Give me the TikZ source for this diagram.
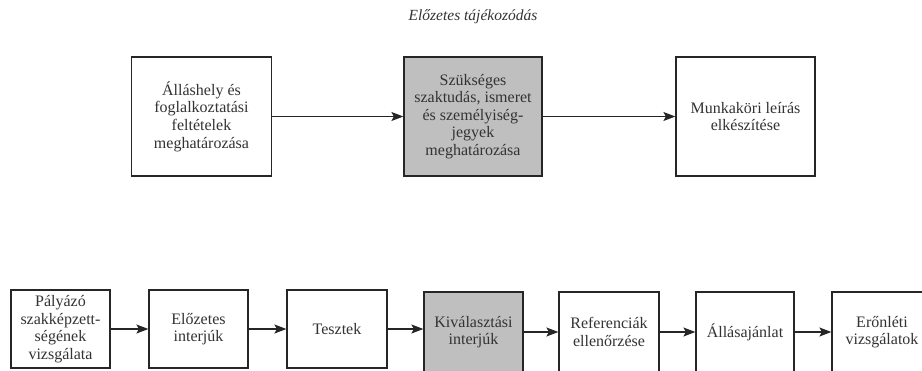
\documentclass[tikz,border=0pt]{standalone}
\usepackage{fontspec}
\setmainfont{Liberation Serif}
\usetikzlibrary{arrows.meta}
\begin{document}
\begin{tikzpicture}[x=1pt,y=-1pt,
  stepbox/.style={draw=black!85, line width=1.2pt, fill=white, align=center,
    inner sep=1pt, font=\fontsize{16}{17.6}\selectfont, text=black!80},
  keybox/.style={stepbox, fill=black!25},
  flow/.style={draw=black!85, line width=1.2pt, -{Stealth[length=12pt,width=9pt,inset=2.5pt]}}]
\useasboundingbox (0,0) rectangle (922,370);
\clip (0,0) rectangle (922,370);
\fill[white] (0,0) rectangle (922,370);

% heading
\node[text=black!80] (title) at (473,17) {\fontsize{15.5}{17}\selectfont\itshape Előzetes tájékozódás};

% preliminary stage
\node[stepbox, minimum width=140pt, minimum height=119pt] (a1) at (201.5,116.5)
  {Álláshely és\\foglalkoztatási\\feltételek\\meghatározása};
\node[keybox, minimum width=138pt, minimum height=119pt] (a2) at (473,116.5)
  {Szükséges\\szaktudás, ismeret\\és személyiség-\\jegyek\\meghatározása};
\node[stepbox, minimum width=139pt, minimum height=119pt] (a3) at (745.5,116.5)
  {Munkaköri leírás\\elkészítése};
\draw[flow] (a1) -- (a2);
\draw[flow] (a2) -- (a3);

% selection steps
\node[stepbox, minimum width=99pt, minimum height=78pt] (b1) at (60.5,329)
  {Pályázó\\szakképzett-\\ségének\\vizsgálata};
\node[stepbox, minimum width=99pt, minimum height=78pt] (b2) at (198.5,329)
  {Előzetes\\interjúk};
\node[stepbox, minimum width=100pt, minimum height=78pt] (b3) at (337,329)
  {Tesztek};
\node[keybox, minimum width=99pt, minimum height=80pt] (b4) at (473.5,332)
  {Kiválasztási\\interjúk};
\node[stepbox, minimum width=100pt, minimum height=80pt] (b5) at (609,332)
  {Referenciák\\ellenőrzése};
\node[stepbox, minimum width=98pt, minimum height=80pt] (b6) at (745,332)
  {Állásajánlat};
\node[stepbox, minimum width=100pt, minimum height=80pt] (b7) at (882,332)
  {Erőnléti\\vizsgálatok};
\draw[flow] (b1) -- (b2);
\draw[flow] (b2) -- (b3);
\draw[flow] (b3.east) -- (b3.east -| b4.west);
\draw[flow] (b4) -- (b5);
\draw[flow] (b5) -- (b6);
\draw[flow] (b6) -- (b7);
\end{tikzpicture}
\end{document}
